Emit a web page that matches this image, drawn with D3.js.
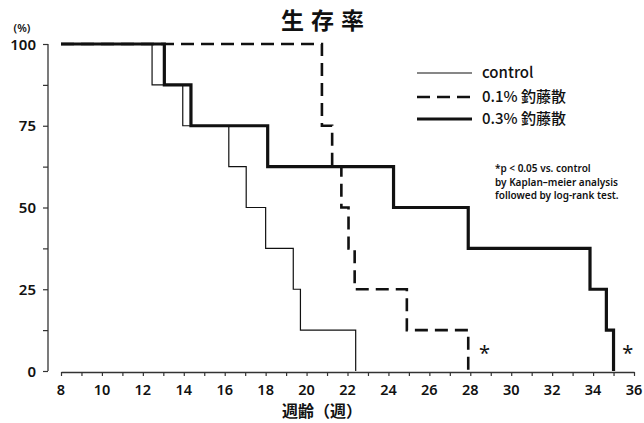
<!DOCTYPE html>
<html>
<head>
<meta charset="utf-8">
<script src="https://cdn.jsdelivr.net/npm/d3@7"></script>
<style>
  html, body { margin: 0; padding: 0; background: #fff; }
  svg { display: block; }
  text { fill: #111; }
</style>
</head>
<body>
<svg id="chart" width="644" height="423"></svg>
<script>
// Survival curves (Kaplan–Meier style), step after each death, n = 8 per group
const startWeek = 8;
const controlWeeks = [12.45, 13.95, 16.2, 17.05, 18.0, 19.35, 19.7, 22.4];
const controlSurvival = [87.5, 75, 62.5, 50, 37.5, 25, 12.5, 0];
const dose01Weeks = [20.75, 21.25, 21.7, 22.05, 22.35, 24.9, 27.9];
const dose01Survival = [75, 62.5, 50, 37.5, 25, 12.5, 0];
const dose03Weeks = [13.05, 14.35, 18.1, 24.25, 27.9, 33.85, 34.65, 35.0];
const dose03Survival = [87.5, 75, 62.5, 50, 37.5, 25, 12.5, 0];

const xTickValues = [8, 10, 12, 14, 16, 18, 20, 22, 24, 26, 28, 30, 32, 34, 36];
const yTickValues = [0, 25, 50, 75, 100];
const legendLabels = ["control", "0.1% 釣藤散", "0.3% 釣藤散"];
const noteLines = ["*p < 0.05 vs. control", "by Kaplan–meier analysis", "followed by log-rank test."];

const svg = d3.select("#chart");
const x = d3.scaleLinear().domain([8, 36]).range([61, 634]);
const y = d3.scaleLinear().domain([0, 100]).range([371, 44]);

const numFont = "'Noto Sans', 'DejaVu Sans', sans-serif";
const cjkFont = "'Noto Sans CJK JP', 'Noto Sans', sans-serif";

// Title
svg.append("text")
  .attr("x", 326).attr("y", 29)
  .attr("text-anchor", "middle")
  .attr("font-family", cjkFont).attr("font-weight", 700)
  .attr("font-size", 23).attr("letter-spacing", 7)
  .text("生存率");

// Y axis: line on the right, short ticks to the left every 12.5
const yAxis = d3.axisLeft(y)
  .tickValues(d3.range(0, 100.1, 12.5))
  .tickSize(5).tickFormat("");
svg.append("g").attr("transform", "translate(48,0)").call(yAxis)
  .call(g => g.select(".domain").attr("stroke", "#333").attr("stroke-width", 1.3).attr("d", `M0,${y(100)}V${y(0)}`))
  .call(g => g.selectAll(".tick line").attr("stroke", "#333").attr("stroke-width", 1.2));

svg.append("g").selectAll("text").data(yTickValues).join("text")
  .attr("x", 36).attr("y", d => y(d) + 5.5)
  .attr("text-anchor", "end")
  .attr("font-family", numFont).attr("font-weight", 600).attr("font-size", 15)
  .text(d => d);

svg.append("text")
  .attr("x", 22).attr("y", 32)
  .attr("text-anchor", "middle")
  .attr("font-family", numFont).attr("font-weight", 600).attr("font-size", 11)
  .text("(%)");

// X axis: ticks every week hanging below the line, labels every 2 weeks
const xAxis = d3.axisBottom(x)
  .tickValues(d3.range(8, 36.1, 1))
  .tickSize(4).tickSizeOuter(0).tickFormat("");
svg.append("g").attr("transform", "translate(0,372)").call(xAxis)
  .call(g => g.select(".domain").attr("stroke", "#333").attr("stroke-width", 1.3))
  .call(g => g.selectAll(".tick line").attr("stroke", "#333").attr("stroke-width", 1.2));

svg.append("g").selectAll("text").data(xTickValues).join("text")
  .attr("x", d => x(d)).attr("y", 395)
  .attr("text-anchor", "middle")
  .attr("font-family", numFont).attr("font-weight", 600).attr("font-size", 14.5)
  .text(d => d);

svg.append("text")
  .attr("x", 322).attr("y", 417)
  .attr("text-anchor", "middle")
  .attr("font-family", cjkFont).attr("font-weight", 700).attr("font-size", 16)
  .text("週齢（週）");

// Survival step lines
const line = d3.line()
  .x(d => x(d[0])).y(d => y(d[1]))
  .curve(d3.curveStepAfter);

function steps(weeks, surv) {
  return [[startWeek, 100]].concat(weeks.map((w, i) => [w, surv[i]]));
}

const series = [
  { pts: steps(controlWeeks, controlSurvival), width: 1.2, dash: null },
  { pts: steps(dose01Weeks, dose01Survival), width: 2.6, dash: "13,7" },
  { pts: steps(dose03Weeks, dose03Survival), width: 3.2, dash: null }
];

svg.append("g").selectAll("path").data(series).join("path")
  .attr("d", d => line(d.pts))
  .attr("fill", "none")
  .attr("stroke", "#111")
  .attr("stroke-width", d => d.width)
  .attr("stroke-dasharray", d => d.dash)
  .attr("stroke-linejoin", "miter")
  .attr("stroke-linecap", "butt");

// Significance marks
svg.append("g").selectAll("text").data([28.7, 35.7]).join("text")
  .attr("x", d => x(d)).attr("y", 360)
  .attr("text-anchor", "middle")
  .attr("font-family", numFont).attr("font-size", 20)
  .text("*");

// Legend
const legend = svg.append("g");
legendLabels.forEach((lab, i) => {
  const ly = [73, 97, 119][i];
  legend.append("line")
    .attr("x1", 417).attr("x2", 472).attr("y1", ly).attr("y2", ly)
    .attr("stroke", "#111")
    .attr("stroke-width", series[i].width)
    .attr("stroke-dasharray", series[i].dash);
  legend.append("text")
    .attr("x", 482).attr("y", ly + 5)
    .attr("font-family", cjkFont).attr("font-weight", 500).attr("font-size", 15)
    .text(lab);
});

// Statistical note
svg.append("g").selectAll("text").data(noteLines).join("text")
  .attr("x", 495).attr("y", (d, i) => 172 + i * 13.5)
  .attr("font-family", numFont).attr("font-weight", 600).attr("font-size", 10)
  .text(d => d);
</script>
</body>
</html>
